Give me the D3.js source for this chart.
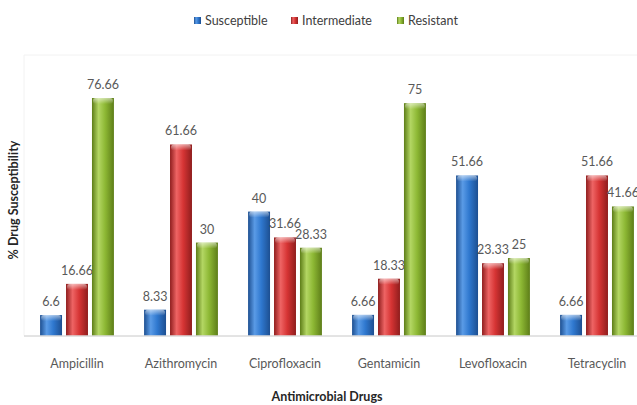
<!DOCTYPE html>
<html>
<head>
<meta charset="utf-8">
<script src="https://cdn.jsdelivr.net/npm/d3@7"></script>
<style>
  body { margin: 0; background: #fff; }
  svg { display: block; font-family: Lato, "Open Sans", sans-serif; }
</style>
</head>
<body>
<svg id="draw" width="637" height="405"></svg>
<script>
let drugs = ["Ampicillin", "Azithromycin", "Ciprofloxacin", "Gentamicin", "Levofloxacin", "Tetracyclin"];
let seriesNames = ["Susceptible", "Intermediate", "Resistant"];
let susceptible = [6.6, 8.33, 40, 6.66, 51.66, 6.66];
let intermediate = [16.66, 61.66, 31.66, 18.33, 23.33, 51.66];
let resistant = [76.66, 30, 28.33, 75, 25, 41.66];
let labels = [
    ["6.6", "8.33", "40", "6.66", "51.66", "6.66"],
    ["16.66", "61.66", "31.66", "18.33", "23.33", "51.66"],
    ["76.66", "30", "28.33", "75", "25", "41.66"]
];

let colorSets = [
    { dark: "#1d4f91", mid: "#2f78cf", light: "#5a9be6" },
    { dark: "#8f1d1d", mid: "#d63434", light: "#ee6464" },
    { dark: "#5d7d18", mid: "#8db834", light: "#b3d663" }
];

let svg = d3.select("#draw");
let defs = svg.append("defs");

colorSets.forEach((c, i) => {
    let g = defs.append("linearGradient").attr("id", "grad" + i)
        .attr("x1", "0%").attr("x2", "100%").attr("y1", "0%").attr("y2", "0%");
    g.append("stop").attr("offset", "0%").attr("stop-color", c.dark);
    g.append("stop").attr("offset", "30%").attr("stop-color", c.light);
    g.append("stop").attr("offset", "60%").attr("stop-color", c.mid);
    g.append("stop").attr("offset", "100%").attr("stop-color", c.dark);
    let t = defs.append("linearGradient").attr("id", "top" + i)
        .attr("x1", "0%").attr("x2", "0%").attr("y1", "0%").attr("y2", "100%");
    t.append("stop").attr("offset", "0%").attr("stop-color", "#fff").attr("stop-opacity", 0.55);
    t.append("stop").attr("offset", "100%").attr("stop-color", "#fff").attr("stop-opacity", 0);
});

let values = [susceptible, intermediate, resistant];
let baseY = 335.5;

let x0 = d3.scaleBand().domain(drugs).range([25, 649]).paddingInner(0.29).paddingOuter(0.145);
let x1 = d3.scaleBand().domain(d3.range(3)).range([0, x0.bandwidth()]).paddingInner(0.154);
let y = d3.scaleLinear().domain([0, 100]).range([baseY, 25.7]);

// faint frame
svg.append("line").attr("x1", 24).attr("x2", 637).attr("y1", 55).attr("y2", 55)
    .attr("stroke", "#f2f2f2");
svg.append("line").attr("x1", 24).attr("x2", 24).attr("y1", 55).attr("y2", baseY)
    .attr("stroke", "#f2f2f2");

// bars
drugs.forEach((d, i) => {
    let g = svg.append("g").attr("transform", "translate(" + x0(d) + ",0)");
    values.forEach((vals, s) => {
        let v = vals[i], bx = x1(s), bw = x1.bandwidth(), top = y(v);
        g.append("rect").attr("x", bx).attr("y", top).attr("width", bw)
            .attr("height", baseY - top).attr("fill", "url(#grad" + s + ")");
        g.append("rect").attr("x", bx + 1).attr("y", top).attr("width", bw - 2)
            .attr("height", 6).attr("rx", 3).attr("fill", "url(#top" + s + ")");
        g.append("text").attr("x", bx + bw / 2).attr("y", top - 9)
            .attr("text-anchor", "middle").attr("font-size", 12.5)
            .attr("fill", "#595959").text(labels[s][i]);
    });
});

// x axis
let xAxis = svg.append("g").attr("transform", "translate(0," + baseY + ")")
    .call(d3.axisBottom(x0).tickSize(0).tickPadding(24));
xAxis.select(".domain").attr("stroke", "#c8c8c8").attr("d", "M24,0.5H637");
xAxis.selectAll("text").attr("font-size", 12.5).attr("fill", "#595959")
    .attr("font-family", "Lato, 'Open Sans', sans-serif");

svg.append("text").attr("x", 327).attr("y", 401).attr("text-anchor", "middle")
    .attr("font-size", 12.5).attr("font-weight", "bold").attr("fill", "#262626")
    .text("Antimicrobial Drugs");

svg.append("text").attr("transform", "translate(18,200) rotate(-90)")
    .attr("text-anchor", "middle").attr("font-size", 12.5).attr("font-weight", "bold")
    .attr("fill", "#262626").text("% Drug Susceptibility");

// legend
let legX = [194, 291, 397];
seriesNames.forEach((n, s) => {
    svg.append("rect").attr("x", legX[s]).attr("y", 17).attr("width", 7).attr("height", 7)
        .attr("fill", "url(#grad" + s + ")");
    svg.append("text").attr("x", legX[s] + 11).attr("y", 25).attr("font-size", 12.5)
        .attr("fill", "#404040").text(n);
});
</script>
</body>
</html>
